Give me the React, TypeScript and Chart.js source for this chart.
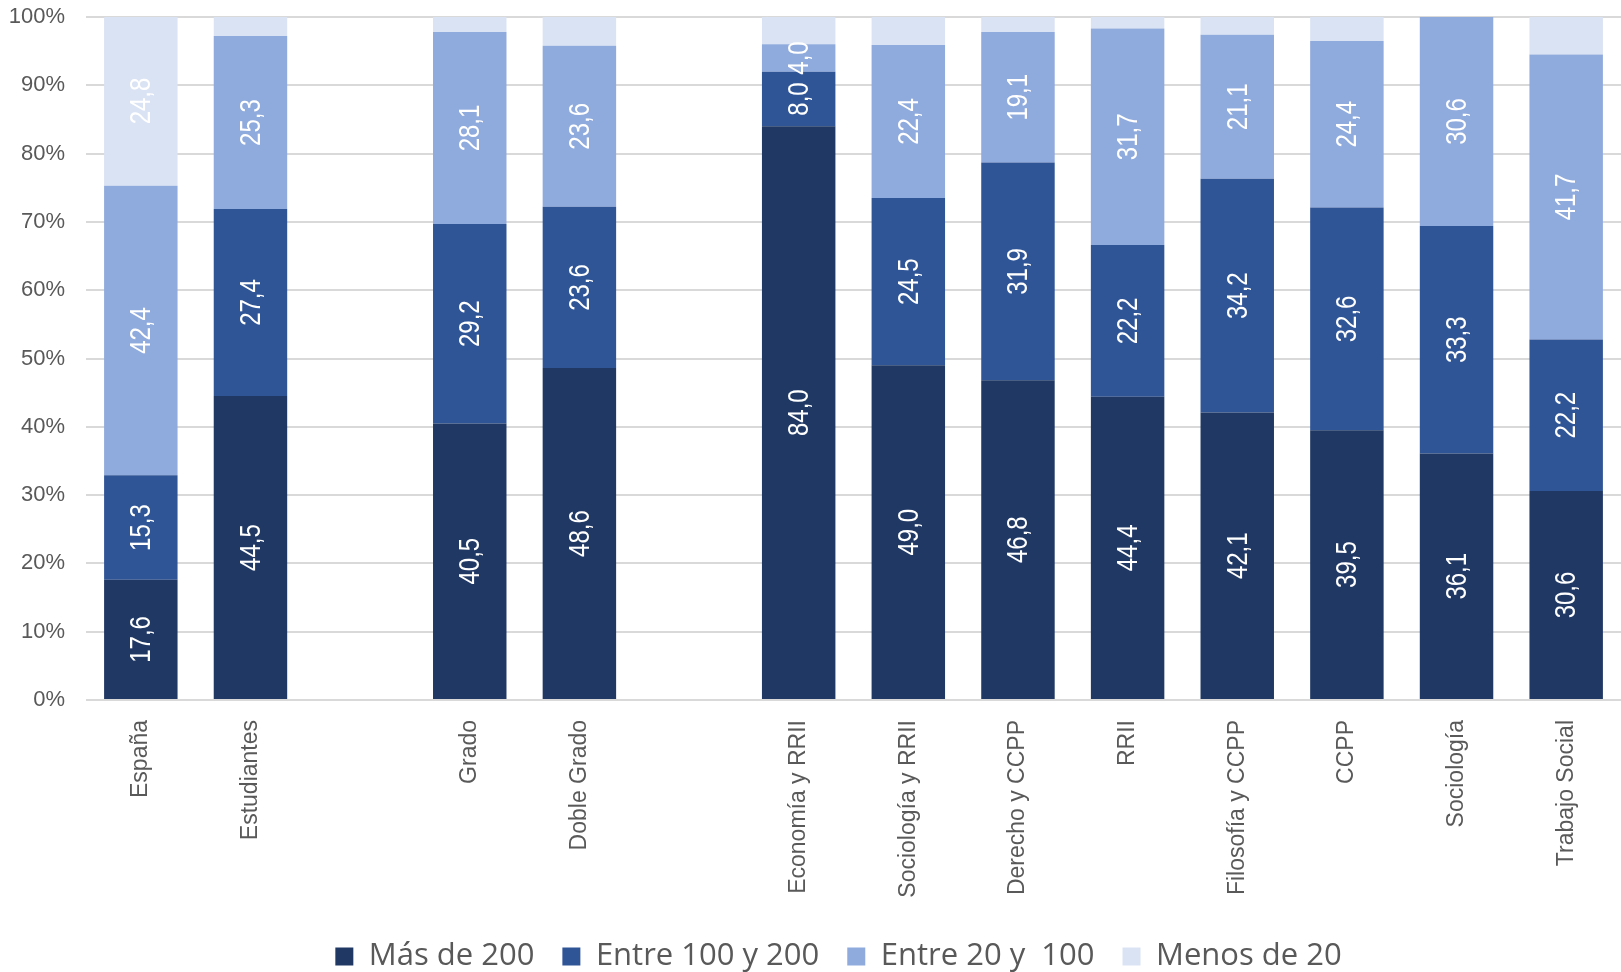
import React, { useEffect, useRef } from "react";
import { Chart, registerables } from "chart.js";

Chart.register(...registerables);

const categories = [
  "España", "Estudiantes", "", "Grado", "Doble Grado", "",
  "Economía y RRII", "Sociología y RRII", "Derecho y CCPP", "RRII",
  "Filosofía y CCPP", "CCPP", "Sociología", "Trabajo Social",
];
const seriesNames = ["Más de 200", "Entre 100 y 200", "Entre 20 y  100", "Menos de 20"];
const mas200 = [17.6, 44.5, null, 40.5, 48.6, null, 84.0, 49.0, 46.8, 44.4, 42.1, 39.5, 36.1, 30.6];
const entre100y200 = [15.3, 27.4, null, 29.2, 23.6, null, 8.0, 24.5, 31.9, 22.2, 34.2, 32.6, 33.3, 22.2];
const entre20y100 = [42.4, 25.3, null, 28.1, 23.6, null, 4.0, 22.4, 19.1, 31.7, 21.1, 24.4, 30.6, 41.7];
const menos20 = [24.8, 2.8, null, 2.2, 4.2, null, 4.0, 4.1, 2.2, 1.7, 2.6, 3.5, 0, 5.5];
const yTicks = [0, 10, 20, 30, 40, 50, 60, 70, 80, 90, 100];

const colors = ["#203864", "#2F5597", "#8FAADC", "#DAE3F3"];
const FONT = "'Liberation Sans', Arial, sans-serif";

const labelPlugin = {
  id: "segLabels",
  afterDatasetsDraw(chart: any) {
    const ctx = chart.ctx;
    ctx.save();
    chart.data.datasets.forEach((ds: any, di: number) => {
      const meta = chart.getDatasetMeta(di);
      if (meta.hidden) return;
      meta.data.forEach((el: any, i: number) => {
        const v = ds.data[i];
        if (v == null || v === 0) return;
        if (di === 3 && v < 10) return;
        const cx = el.x;
        const cy = (el.y + el.base) / 2;
        ctx.save();
        ctx.translate(cx, cy);
        ctx.rotate(-Math.PI / 2);
        ctx.scale(0.8, 1);
        ctx.font = `30px ${FONT}`;
        ctx.fillStyle = "#FFFFFF";
        ctx.textAlign = "center";
        ctx.textBaseline = "middle";
        ctx.fillText(v.toFixed(1).replace(".", ","), 0, 1);
        ctx.restore();
      });
    });
    ctx.restore();
  },
};

const legendShift = {
  id: "legendShift",
  afterLayout(chart: any) {
    const lg = chart.legend;
    if (lg) {
      lg.left += 28;
      lg.right += 28;
    }
  },
};

export default function App() {
  const ref = useRef<HTMLCanvasElement | null>(null);
  useEffect(() => {
    if (!ref.current) return;
    const series = [mas200, entre100y200, entre20y100, menos20];
    const chart = new Chart(ref.current, {
      type: "bar",
      data: {
        labels: categories,
        datasets: series.map((d, i) => ({
          label: seriesNames[i],
          data: d,
          backgroundColor: colors[i],
          borderWidth: 0,
          categoryPercentage: 1,
          barPercentage: 0.67,
        })),
      },
      options: {
        animation: false,
        responsive: true,
        maintainAspectRatio: false,
        devicePixelRatio: 1,
        layout: { padding: { top: 17, left: 0, right: 0, bottom: -10 } },
        plugins: {
          legend: {
            position: "bottom",
            labels: {
              font: { family: "'Open Sans', sans-serif", size: 31 },
              color: "#595959",
              boxWidth: 18,
              boxHeight: 18,
              padding: 28,
            },
          },
          tooltip: { enabled: false },
        },
        scales: {
          x: {
            stacked: true,
            grid: { display: false, drawTicks: false },
            border: { display: false },
            ticks: {
              autoSkip: false,
              minRotation: 90,
              maxRotation: 90,
              padding: 20,
              color: "#595959",
              font: { family: FONT, size: 23 },
            },
            afterFit: (s: any) => { s.height = 213; },
          },
          y: {
            stacked: true,
            min: 0,
            max: 100,
            afterBuildTicks: (s: any) => { s.ticks = yTicks.map((v) => ({ value: v })); },
            grid: { color: "#D9D9D9", lineWidth: 2, drawTicks: false },
            border: { display: false },
            ticks: {
              padding: 21,
              color: "#595959",
              font: { family: FONT, size: 22 },
              callback: (v: any) => v + "%",
            },
            afterFit: (s: any) => {
              s.width = 86;
              s.paddingTop = 0;
              s.paddingBottom = 0;
            },
          },
        },
      },
      plugins: [labelPlugin, legendShift],
    });
    return () => chart.destroy();
  }, []);
  return (
    <div style={{ position: "absolute", left: 0, top: 0, width: "1621px", height: "972px", background: "#fff" }}>
      <canvas ref={ref} />
    </div>
  );
}
